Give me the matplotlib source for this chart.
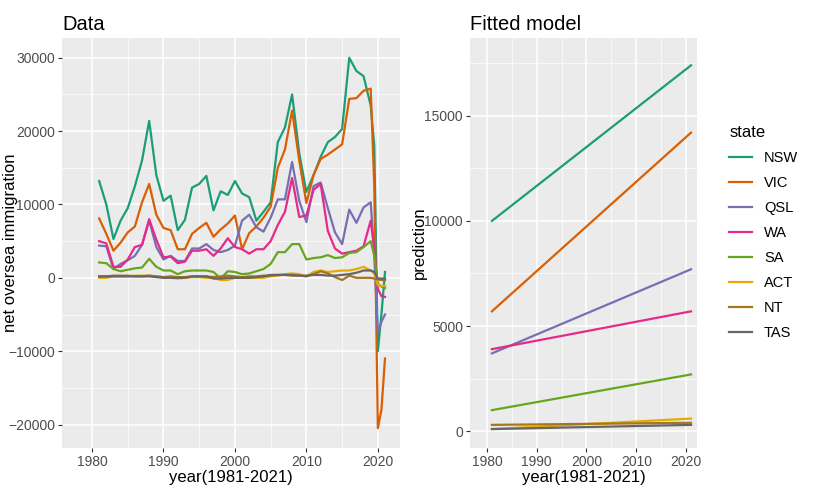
import numpy as np
import matplotlib.pyplot as plt

years = list(range(1981, 2020)) + [2019.5, 2020, 2020.5, 2021]

nsw = [13200, 10000, 5300, 7800, 9500, 12500, 16000, 21400, 14000, 10500, 11200, 6500, 7900, 12300,
       12800, 13900, 9200, 11800, 11300, 13200, 11500, 11000, 7800, 9000, 10300, 18500, 20500, 25000,
       17000, 11700, 14000, 16500, 18500, 19200, 20300, 30000, 28200, 27500, 23500, 18000, -10000, -5000, 800]
vic = [8100, 6000, 3700, 4800, 6200, 7000, 10300, 12800, 8600, 6800, 6500, 3900, 3900, 6000, 6800, 7500,
       5600, 6600, 7400, 8500, 3900, 6100, 7000, 8200, 9700, 15000, 17500, 22800, 16000, 10200, 14000,
       16200, 16800, 17500, 18200, 24400, 24500, 25500, 25800, 12500, -20500, -18000, -11000]
qsl = [4400, 4300, 1200, 1900, 2400, 3000, 4500, 7800, 4200, 2500, 3000, 2300, 2300, 4000, 4000, 4600,
       3800, 3500, 3800, 4400, 7800, 8600, 6900, 6300, 8200, 10700, 10700, 15800, 10500, 7600, 12500,
       13000, 9500, 6200, 4600, 9300, 7500, 9600, 10300, 3000, -7500, -6000, -5000]
wa = [5000, 4700, 1500, 1500, 2500, 4200, 4500, 8000, 5200, 2800, 2900, 2000, 2200, 3700, 3700, 3900,
      3000, 4000, 5400, 4200, 3900, 3300, 3900, 3900, 5000, 7200, 9000, 13600, 8300, 8500, 12000, 12800,
      6400, 4000, 3300, 3500, 3700, 4300, 7800, 4000, -1500, -2500, -2600]
sa = [2100, 2000, 1200, 900, 1100, 1300, 1400, 2600, 1500, 1000, 1000, 500, 900, 1000, 1000, 1000, 800,
      -100, 900, 800, 500, 600, 900, 1200, 1900, 3500, 3500, 4600, 4600, 2500, 2700, 2800, 3100, 2700,
      2800, 3400, 3500, 4200, 5000, 3000, -800, -1200, -1400]
act = [0, 0, 200, 200, 200, 300, 300, 300, 200, 100, 0, -100, 0, 100, 100, 0, 0, -300, -300, 0, 0, 0,
       0, 0, 200, 300, 500, 600, 500, 200, 800, 1000, 800, 900, 1000, 1000, 1200, 1500, 1000, 600,
       -1000, -1100, -1100]
nt = [200, 200, 300, 300, 300, 200, 200, 300, 200, 100, 200, 100, 100, 200, 200, 200, 100, 200, 300,
      200, 100, 200, 200, 300, 300, 400, 400, 300, 300, 200, 500, 900, 600, 100, -300, 300, 0, 0, 0,
      -100, -200, -300, -300]
tas = [200, 200, 200, 200, 200, 200, 200, 200, 100, 0, 0, 0, 0, 200, 200, 200, -100, -100, 0, 0, 0, 0,
       100, 200, 400, 400, 400, 400, 300, 300, 400, 400, 300, 300, 400, 500, 700, 1000, 1000, 800,
       -100, -100, -100]

states = ["NSW", "VIC", "QSL", "WA", "SA", "ACT", "NT", "TAS"]
colors = ["#1B9E77", "#D95F02", "#7570B3", "#E7298A", "#66A61E", "#E6AB02", "#A6761D", "#666666"]
series = [nsw, vic, qsl, wa, sa, act, nt, tas]

# fitted linear model: prediction at 1981 and at 2021
fit_start = [10000, 5700, 3700, 3900, 1000, 100, 300, 100]
fit_end = [17400, 14200, 7700, 5700, 2700, 600, 400, 300]

plt.rcParams["font.family"] = ["Liberation Sans", "DejaVu Sans"]

fig = plt.figure(figsize=(8.16, 5.04), dpi=100)
W, H = 816, 504
ax1 = fig.add_axes([62 / W, 1 - 448 / H, 338 / W, 410 / H])
ax2 = fig.add_axes([470 / W, 1 - 448 / H, 227 / W, 410 / H])

for ax in (ax1, ax2):
    ax.set_facecolor("#EBEBEB")
    for s in ax.spines.values():
        s.set_visible(False)
    ax.grid(True, which="major", color="white", lw=1.1)
    ax.grid(True, which="minor", color="white", lw=0.5)
    ax.set_axisbelow(True)
    ax.tick_params(which="major", colors="#333333", labelsize=10, length=3, pad=2, labelcolor="#4D4D4D")
    ax.tick_params(which="minor", length=0)
    ax.set_xlabel("year(1981-2021)", fontsize=12, labelpad=1)

for name, c, y in zip(states, colors, series):
    ax1.plot(years, y, color=c, lw=1.6, label=name)
ax1.set_xlim(1975.8, 2023.1)
ax1.set_ylim(-23200, 32700)
ax1.set_xticks([1980, 1990, 2000, 2010, 2020])
ax1.set_xticks([1985, 1995, 2005, 2015], minor=True)
ax1.set_yticks([-20000, -10000, 0, 10000, 20000, 30000])
ax1.set_yticks([-15000, -5000, 5000, 15000, 25000], minor=True)
ax1.set_ylabel("net oversea immigration", fontsize=12)
ax1.yaxis.set_label_coords(-0.13, 0.5)
ax1.set_title("Data", loc="left", fontsize=14.5)

fx = np.array([1981, 2021])
for name, c, a, b in zip(states, colors, fit_start, fit_end):
    ax2.plot(fx, [a, b], color=c, lw=1.6, label=name)
ax2.set_xlim(1976.6, 2022.2)
ax2.set_ylim(-800, 18700)
ax2.set_xticks([1980, 1990, 2000, 2010, 2020])
ax2.set_xticks([1985, 1995, 2005, 2015], minor=True)
ax2.set_yticks([0, 5000, 10000, 15000])
ax2.set_yticks([2500, 7500, 12500, 17500], minor=True)
ax2.set_ylabel("prediction", fontsize=12)
ax2.yaxis.set_label_coords(-0.19, 0.5)
ax2.set_title("Fitted model", loc="left", fontsize=14.5)

leg = fig.legend(*ax2.get_legend_handles_labels(), loc="upper left", bbox_to_anchor=(716 / W, 1 - 112 / H),
                 title="state", frameon=False, fontsize=10.5, title_fontsize=12, handlelength=1.6,
                 labelspacing=0.75)
leg._legend_box.align = "left"

fig.savefig("out.png", dpi=100)
